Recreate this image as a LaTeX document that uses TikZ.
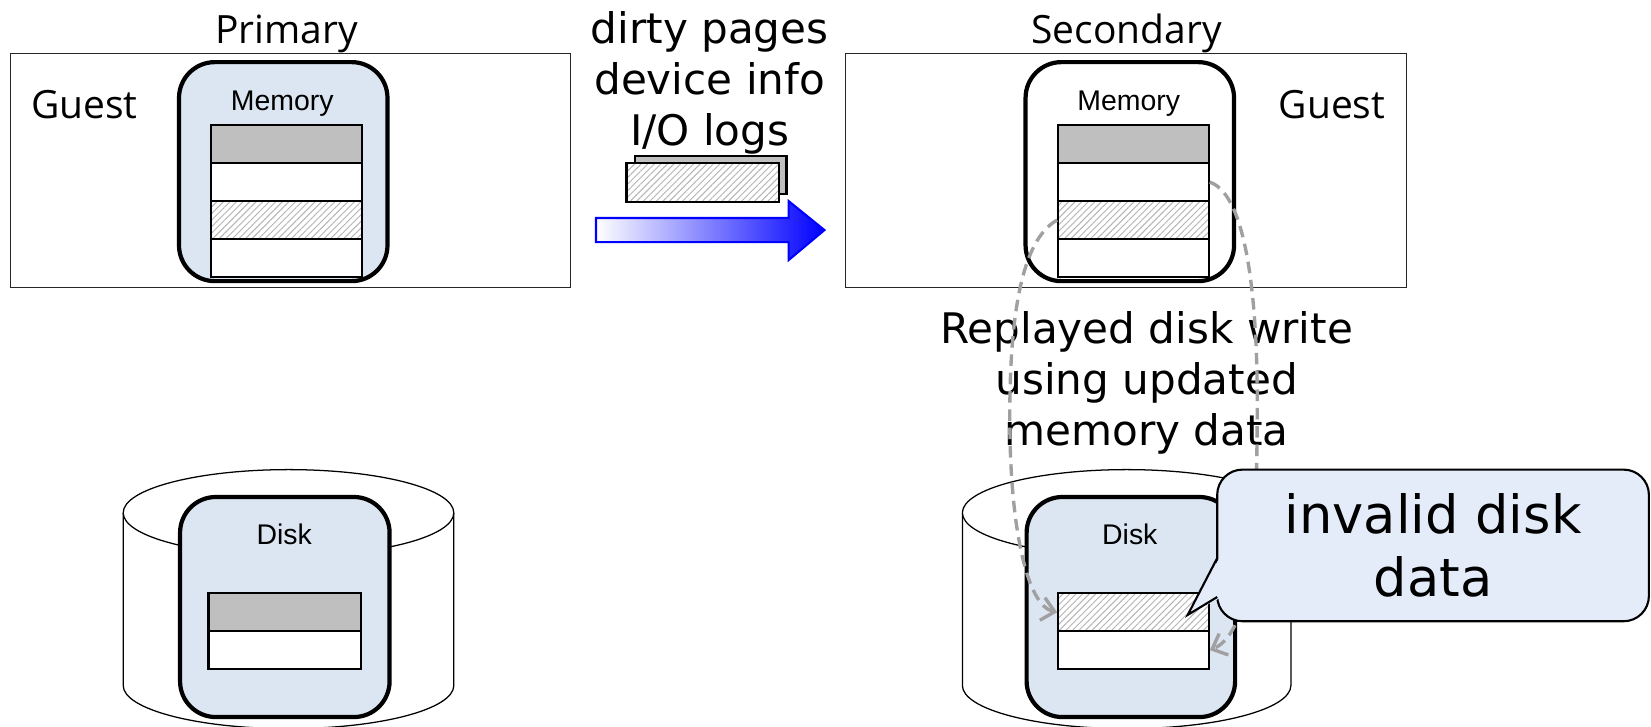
\documentclass[tikz,border=0pt]{standalone}
\usepackage{fontspec}
\setmainfont{DejaVu Sans}
\newfontfamily\opensans{Open Sans}
\newfontfamily\libsans{Liberation Sans}
\usetikzlibrary{arrows.meta,patterns.meta}
\definecolor{memblue}{HTML}{DCE6F2}
\definecolor{callblue}{HTML}{E4ECFA}
\definecolor{stripgray}{HTML}{BFBFBF}
\definecolor{dashgray}{HTML}{A0A0A0}
\definecolor{hatchgray}{HTML}{B4B4B4}
\begin{document}
\begin{tikzpicture}[x=0.5pt,y=-0.5pt,
  guestbox/.style={draw=black!85, line width=0.6pt, minimum width=266pt, minimum height=111pt, inner sep=0pt},
  membox/.style={draw=black, line width=2pt, rounded corners=17pt, minimum width=99pt, minimum height=104pt, inner sep=0pt},
  strip/.style={draw=black, line width=1pt, minimum width=72pt, minimum height=18pt, inner sep=0pt, fill=white},
  graystrip/.style={strip, fill=stripgray},
  hatchstrip/.style={draw=black, line width=1pt, minimum width=72pt, minimum height=18pt, inner sep=0pt,
     preaction={fill=white}, pattern={Lines[angle=45,distance=2.2pt,line width=0.45pt]}, pattern color=hatchgray},
  titletext/.style={font=\opensans\fontsize{18.5pt}{22pt}\selectfont, anchor=base, inner sep=0pt},
  smalltext/.style={font=\libsans\fontsize{13.5pt}{16pt}\selectfont, anchor=base, inner sep=0pt},
  bigtext/.style={font=\fontsize{20pt}{24.2pt}\selectfont, align=center, inner sep=0pt},
  cyl/.style={draw=black, line width=0.6pt, fill=white},
  replay/.style={draw=dashgray, line width=1.6pt, dash pattern=on 5.5pt off 3.2pt,
     -{Straight Barb[length=6pt,width=11pt,line width=1.6pt]}},
  callbox/.style={draw=black, line width=1pt, fill=callblue, rounded corners=12pt, minimum width=205pt, minimum height=72pt,
     inner sep=0pt, align=center, font=\fontsize{25pt}{30pt}\selectfont}
]
\useasboundingbox (0,0) rectangle (1568,690);

% ---------- Primary ----------
\node[guestbox] (pguest) at (276,162) {};
\node[titletext] (ptitle) at (272,41) {Primary};
\node[titletext] (pguestlbl) at (80,113) {Guest};
\node[membox, fill=memblue] (pmem) at (269,163) {};
\node[smalltext] (pmemlbl) at (268,104.5) {Memory};
\node[graystrip] (pm1) at (272,137) {};
\node[strip] (pm2) at (272,173) {};
\node[hatchstrip] (pm3) at (272,209) {};
\node[strip] (pm4) at (272,245) {};

% ---------- transfer ----------
\node[bigtext] (xfer) at (674,79) {dirty pages\\device info\\I/O logs};
\node[graystrip] (pgback) at (675,166) {};
\node[hatchstrip, minimum width=72.5pt, minimum height=18.5pt] (pgfront) at (667.5,173.5) {};
\draw[blue, line width=1pt, left color=white, right color=blue]
  (566,207) -- (749,207) -- (749,191) -- (783,218.5) -- (749,247) -- (749,230) -- (566,230) -- cycle;

% ---------- Secondary ----------
\node[guestbox, minimum width=266.5pt] (sguest) at (1069.5,162) {};
\node[titletext] (stitle) at (1070,41) {Secondary};
\node[titletext] (sguestlbl) at (1265,113) {Guest};
\node[membox, fill=white] (smem) at (1073,163) {};
\node[smalltext] (smemlbl) at (1072,104.5) {Memory};
\node[graystrip, minimum width=71.5pt] (sm1) at (1076.5,137) {};
\node[strip, minimum width=71.5pt] (sm2) at (1076.5,173) {};
\node[hatchstrip, minimum width=71.5pt] (sm3) at (1076.5,209) {};
\node[strip, minimum width=71.5pt] (sm4) at (1076.5,245) {};

\node[bigtext] (replaylbl) at (1089,364) {Replayed disk write\\using updated\\memory data};

% ---------- left disk ----------
\filldraw[cyl] (117,487) -- (117,651) arc[start angle=180, end angle=360, x radius=78.5pt, y radius=20.5pt] -- (431,487);
\filldraw[cyl] (274,487) ellipse [x radius=78.5pt, y radius=20.5pt];
\node[membox, fill=memblue, minimum width=99.5pt, minimum height=104.5pt] (pdisk) at (270.5,576.5) {};
\node[smalltext] (pdisklbl) at (270,517.5) {Disk};
\node[graystrip, minimum width=72.5pt] (pd1) at (270.5,581.5) {};
\node[strip, minimum width=72.5pt] (pd2) at (270.5,617.5) {};

% ---------- right disk ----------
\filldraw[cyl] (914,487) -- (914,651) arc[start angle=180, end angle=360, x radius=78pt, y radius=20.5pt] -- (1226,487);
\filldraw[cyl] (1070,487) ellipse [x radius=78pt, y radius=20.5pt];
\node[membox, fill=memblue, minimum width=99pt, minimum height=104.5pt] (sdisk) at (1074,576.5) {};
\node[smalltext] (sdisklbl) at (1073,517.5) {Disk};
\node[hatchstrip, minimum width=71.5pt] (sd1) at (1076.5,581.5) {};
\node[strip, minimum width=71.5pt] (sd2) at (1076.5,617.5) {};

% ---------- replay connectors ----------
\coordinate (lmid) at (959,396);
\coordinate (rmid) at (1194,380);
\draw[replay] (sm3.west) .. controls (970,228) and (959,300) .. (lmid)
   .. controls (959,500) and (975,575) .. (sd1.west);
\draw[replay] (sm2.east) .. controls (1185,185) and (1194,290) .. (rmid)
   .. controls (1194,500) and (1190,600) .. (sd2.east);

% ---------- callout ----------
\node[callbox] (call) at (1361,518) {invalid disk\\data};
\coordinate (calltip) at (1128,584);
\fill[callblue] (1158.5,529) -- (calltip) -- (1158.5,568) -- cycle;
\draw[line width=1pt, line join=miter] (1156,530) -- (calltip) -- (1156,567);
\end{tikzpicture}
\end{document}
